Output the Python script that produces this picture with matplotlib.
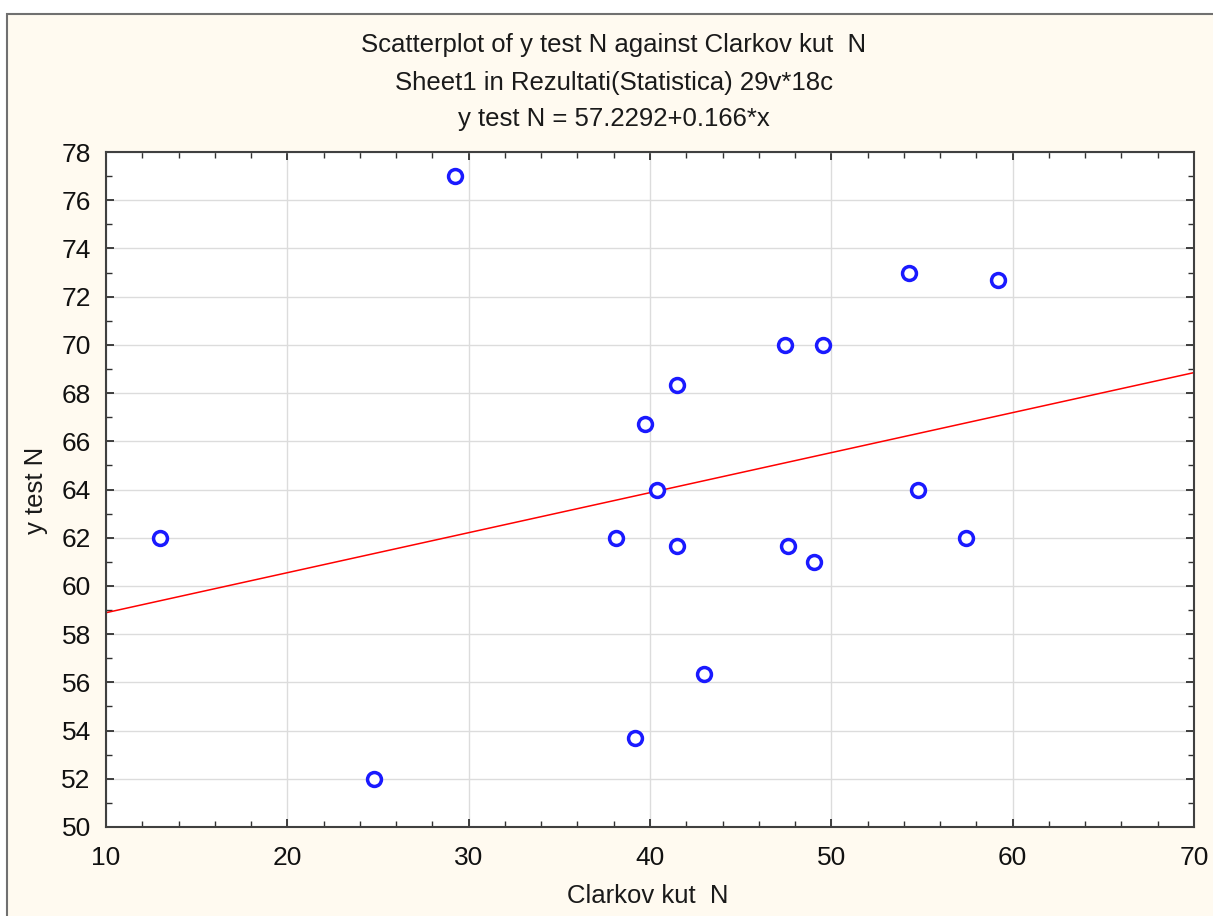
import matplotlib
matplotlib.use('Agg')
import numpy as np
import matplotlib.pyplot as plt
from matplotlib.patches import Rectangle
from matplotlib.ticker import MultipleLocator

plt.rcParams['font.family'] = ['Liberation Sans', 'DejaVu Sans']

# --- DATA ---
clarkov_kut = [13.0, 24.8, 29.25, 38.1, 39.2, 39.7, 40.4, 41.5, 41.5,
               43.0, 47.45, 47.6, 49.05, 49.55, 54.3, 54.8, 57.45, 59.2]
y_test = [62.0, 52.0, 77.0, 62.0, 53.7, 66.7, 64.0, 68.33, 61.67,
          56.33, 70.0, 61.67, 61.0, 70.0, 73.0, 64.0, 62.0, 72.67]

# fitted line from the title
intercept = 57.2292
slope = 0.166

x_lim = (10, 70)
y_lim = (50, 78)

fig = plt.figure(figsize=(12.13, 9.16), dpi=100)
fig.patch.set_facecolor('white')

# cream panel with grey frame
W, H = 1213.0, 916.0
fig.patches.append(Rectangle((7 / W, -0.05), 1.1, 1 - 14 / H + 0.05,
                             transform=fig.transFigure, facecolor='#fffaf0',
                             edgecolor='#707070', linewidth=1.5, zorder=-5))

ax = fig.add_axes([106 / W, 1 - 827 / H, (1194 - 106) / W, (827 - 152) / H])
ax.set_facecolor('white')

xs = np.array(x_lim, dtype=float)
ax.plot(xs, intercept + slope * xs, color='red', linewidth=1.1, zorder=2)
ax.plot(clarkov_kut, y_test, linestyle='none', marker='o', markersize=10,
        markerfacecolor='white', markeredgecolor='#1a1aff',
        markeredgewidth=2.5, zorder=3)

ax.set_xlim(*x_lim)
ax.set_ylim(*y_lim)
ax.xaxis.set_major_locator(MultipleLocator(10))
ax.xaxis.set_minor_locator(MultipleLocator(2))
ax.yaxis.set_major_locator(MultipleLocator(2))
ax.yaxis.set_minor_locator(MultipleLocator(1))
ax.grid(True, which='major', color='#dcdcdc', linewidth=1.0, zorder=0)
ax.set_axisbelow(True)
ax.tick_params(which='both', direction='in', top=True, right=True,
               colors='#303030', labelcolor='#111111', labelsize=19)
ax.tick_params(axis='x', pad=14)
ax.tick_params(axis='y', pad=11)
ax.tick_params(which='major', length=6, width=1.3)
ax.tick_params(which='minor', length=4, width=1.0)
for sp in ax.spines.values():
    sp.set_color('#404040')
    sp.set_linewidth(1.5)

fig.text(614 / W, 1 - 45 / H, 'Scatterplot of y test N against Clarkov kut  N',
         ha='center', va='center', fontsize=18.5, color='#1a1a1a')
fig.text(614 / W, 1 - 83 / H, 'Sheet1 in Rezultati(Statistica) 29v*18c',
         ha='center', va='center', fontsize=18.5, color='#1a1a1a')
fig.text(614 / W, 1 - 119 / H, 'y test N = 57.2292+0.166*x',
         ha='center', va='center', fontsize=18.5, color='#1a1a1a')

fig.text(648 / W, 1 - 896 / H, 'Clarkov kut  N', ha='center', va='center',
         fontsize=18.5, color='#1a1a1a')
fig.text(36 / W, 1 - 490 / H, 'y test N', ha='center', va='center',
         rotation=90, fontsize=18.5, color='#1a1a1a')

fig.savefig('out.png', dpi=100, facecolor=fig.get_facecolor())
